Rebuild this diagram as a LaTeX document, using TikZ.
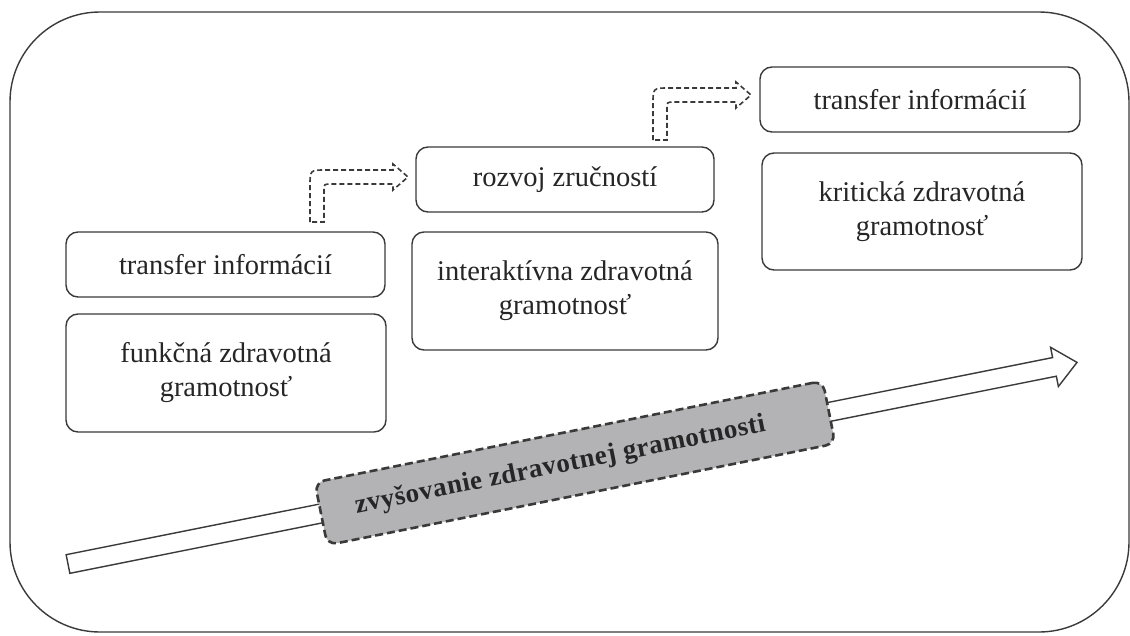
\documentclass[tikz,border=0pt]{standalone}
\usepackage{fontspec}
\setmainfont{Liberation Serif}
\definecolor{linegray}{HTML}{3A3A3A}
\definecolor{textgray}{HTML}{262626}
\definecolor{bandgray}{HTML}{B3B3B5}
\begin{document}
\begin{tikzpicture}[x=1pt,y=-1pt,
  frame/.style={draw=linegray, line width=1.4pt, rounded corners=90pt},
  stage/.style={draw=linegray, line width=1.4pt, rounded corners=12pt, fill=white,
    text=textgray, align=center, inner sep=0pt,
    font=\fontsize{28.5}{34}\selectfont},
  band/.style={draw=linegray, fill=bandgray, line width=2.6pt,
    dash pattern=on 8pt off 4pt, rounded corners=10pt, text=textgray,
    inner sep=0pt, minimum width=518pt, minimum height=64pt,
    font=\fontsize{27}{32}\selectfont\bfseries\addfontfeatures{LetterSpace=2}},
  bigarrow/.style={draw=linegray, fill=white, line width=1.4pt, line join=miter},
  hollowdash/.style={draw=linegray, line width=1.6pt, dash pattern=on 5pt off 3pt},
  bentarrow/.pic={
    \draw[hollowdash] (0,0) -- (0,-36) .. controls (0,-52) .. (16,-52)
      -- (83,-52) -- (83,-58) -- (98,-45) -- (83,-32) -- (83,-38)
      -- (21,-38) .. controls (14,-38) .. (14,-31) -- (14,0) -- cycle;
  }]
\useasboundingbox (0,0) rectangle (1130,635);

% outer frame
\draw[frame] (10,12) rectangle (1129,632);

% long rising arrow
\begin{scope}[shift={(68,564)}, rotate=11.3]
  \draw[bigarrow] (0,-9.5) -- (1006,-9.5) -- (1006,-20) -- (1029,0)
    -- (1006,20) -- (1006,9.5) -- (0,9.5) -- cycle;
\end{scope}

% label band on the arrow (text sits a little left of centre)
\node[band, rotate=11.3] (gr) at (575,463) {zvyšovanie zdravotnej gramotnosti\hspace*{30pt}};

% stages
\node[stage, minimum width=319pt, minimum height=65pt] (b1) at (225.5,264.5) {transfer informácií};
\node[stage, minimum width=320pt, minimum height=118pt] (b2) at (226,373) {funkčná zdravotná\\gramotnosť};
\node[stage, minimum width=298pt, minimum height=65pt] (b3) at (565,179.5) {rozvoj zručností};
\node[stage, minimum width=306pt, minimum height=118pt] (b4) at (565,291) {interaktívna zdravotná\\gramotnosť};
\node[stage, minimum width=320pt, minimum height=65pt] (b5) at (920,99.5) {transfer informácií};
\node[stage, minimum width=320pt, minimum height=117pt] (b6) at (922,211.5) {kritická zdravotná\\gramotnosť};

% dashed step arrows
\pic (s1) at (310,222) {bentarrow};
\pic (s2) at (653,140) {bentarrow};
\end{tikzpicture}
\end{document}
